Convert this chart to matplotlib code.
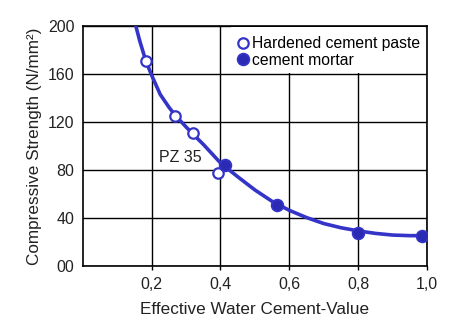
import matplotlib.pyplot as plt
from matplotlib.patches import Rectangle

plt.rcParams['font.family'] = ['Liberation Sans', 'DejaVu Sans']

# fitted curve
curve_wc = [0.154, 0.165, 0.183, 0.2, 0.225, 0.25, 0.269, 0.3, 0.32, 0.35, 0.4, 0.426,
            0.45, 0.5, 0.55, 0.6, 0.65, 0.7, 0.75, 0.8, 0.85, 0.9, 0.95, 1.0]
curve_strength = [200, 188, 171, 159, 143, 132.5, 125.5, 116, 110, 101.5, 86, 80,
                  74.5, 63.5, 54, 46.5, 40.5, 35.5, 32, 29.4, 27.3, 25.9, 25.4, 25.4]

# measured points
paste_wc = [0.183, 0.269, 0.32, 0.394]
paste_strength = [171, 125.5, 111, 78]
mortar_wc = [0.414, 0.564, 0.799, 0.986]
mortar_strength = [84, 51, 28, 25]

xticks = [0.2, 0.4, 0.6, 0.8, 1.0]
xticklabels = ["0,2", "0,4", "0,6", "0,8", "1,0"]
yticks = [0, 40, 80, 120, 160, 200]
yticklabels = ["00", "40", "80", "120", "160", "200"]

blue = "#3434c8"
dark = "#2a2ab4"
txt = "#222222"

fig = plt.figure(figsize=(4.58, 3.31), dpi=100)
ax = fig.add_axes([0.181, 0.196, 0.751, 0.725])

ax.plot(curve_wc, curve_strength, color=blue, lw=2.6, zorder=3,
        solid_joinstyle="round")
ax.plot(paste_wc, paste_strength, "o", ms=7.5, mfc="white", mec=blue, mew=1.6,
        zorder=4, label="Hardened cement paste")
ax.plot(mortar_wc, mortar_strength, "o", ms=8.5, mfc=dark, mec=blue, mew=1.2,
        zorder=4, label="cement mortar")

ax.set_xlim(0, 1.0)
ax.set_ylim(0, 200)
ax.set_xticks(xticks)
ax.set_xticklabels(xticklabels)
ax.set_yticks(yticks)
ax.set_yticklabels(yticklabels)
ax.tick_params(axis="x", length=3, width=1, direction="out", labelsize=11.5, pad=5)
ax.tick_params(axis="y", length=0, labelsize=11.5, pad=6)
for lab in ax.get_xticklabels() + ax.get_yticklabels():
    lab.set_color(txt)

ax.set_axisbelow(True)
ax.grid(True, color="black", lw=1.0)
for s in ax.spines.values():
    s.set_linewidth(1.2)

# white box behind the legend hides the grid there
ax.add_patch(Rectangle((0.43, 161), 0.565, 38.3, facecolor="white",
                       edgecolor="none", zorder=1))
ax.legend(loc="upper left", frameon=False, fontsize=11.3, handletextpad=0.05,
          handlelength=1.0, borderaxespad=0, labelspacing=0.1,
          bbox_to_anchor=(0.425, 0.985))

ax.text(0.222, 87, "PZ 35", fontsize=11.5, color=txt, zorder=5)

ax.set_xlabel("Effective Water Cement-Value", fontsize=12.3, color=txt, labelpad=7)
ax.set_ylabel("Compressive Strength (N/mm²)", fontsize=12.3, color=txt, labelpad=4)

fig.savefig("out.png", dpi=100)
